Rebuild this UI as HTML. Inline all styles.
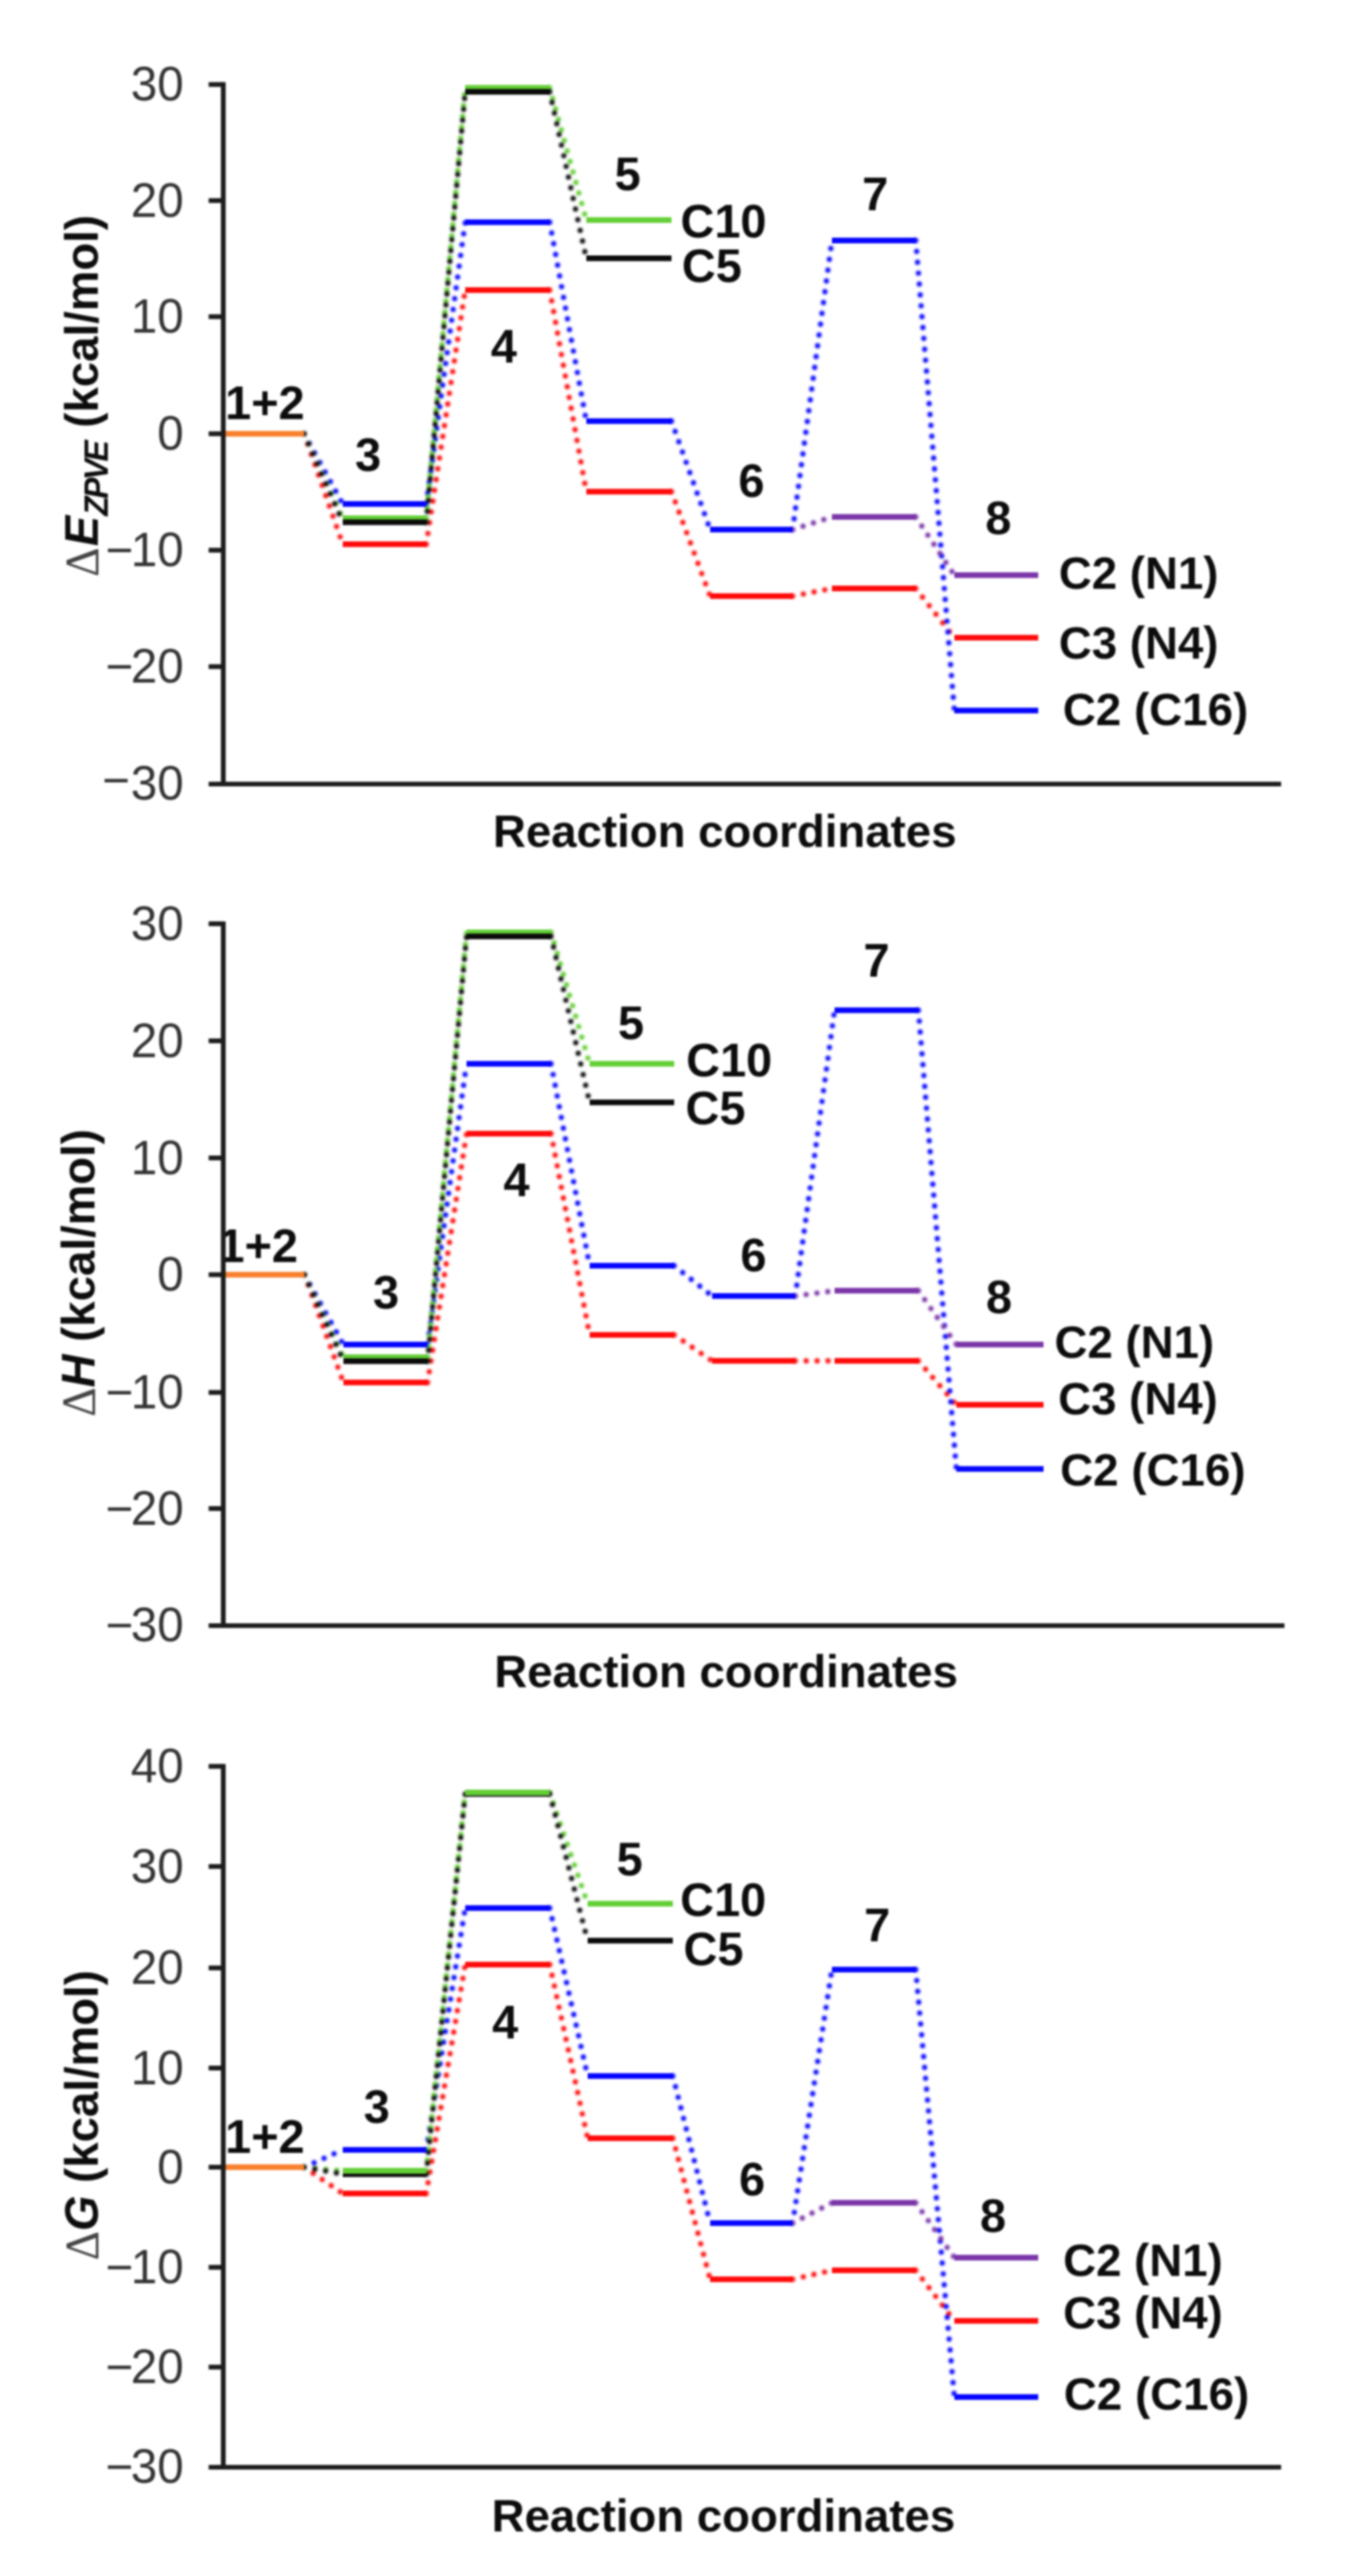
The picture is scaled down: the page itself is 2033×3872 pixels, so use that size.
<!DOCTYPE html>
<html lang="en"><head><meta charset="utf-8"><title>Energy profiles</title>
<style>
html,body{margin:0;padding:0;background:#fff}
svg{display:block;filter:blur(1.5px)}
text{font-family:"Liberation Sans",Arial,sans-serif;font-size:70.5px}
.t{fill:#333333;font-size:71.5px}
.x{font-size:68.5px}
.b{fill:#0c0c0c;font-weight:bold}
.bi{font-style:italic}
.dl{font-family:"Liberation Serif","DejaVu Serif",serif;font-weight:normal;fill:#444}
.sub{font-size:48px;letter-spacing:-3.9px}
.dg{filter:blur(1.5px)}
.d{stroke-width:7.8;stroke-dasharray:0 16.4;stroke-linecap:round;fill:none}
</style></head>
<body>
<svg width="2033" height="3872" viewBox="0 0 2033 3872">
<rect width="2033" height="3872" fill="#ffffff"/>
<g id="chart1">
<g class="dg">
<line x1="457.0" y1="652.0" x2="515.0" y2="818.0" stroke="#ff0a0a" class="d"/>
<line x1="640.5" y1="818.0" x2="699.0" y2="436.0" stroke="#ff0a0a" class="d"/>
<line x1="826.0" y1="436.0" x2="881.0" y2="739.0" stroke="#ff0a0a" class="d"/>
<line x1="1009.0" y1="739.0" x2="1067.0" y2="896.0" stroke="#ff0a0a" class="d"/>
<line x1="1191.0" y1="896.0" x2="1250.0" y2="884.5" stroke="#ff0a0a" class="d"/>
<line x1="1376.0" y1="884.5" x2="1434.0" y2="958.5" stroke="#ff0a0a" class="d"/>
<line x1="457.0" y1="652.0" x2="515.0" y2="757.5" stroke="#0505ff" class="d"/>
<line x1="640.5" y1="757.5" x2="699.0" y2="334.0" stroke="#0505ff" class="d"/>
<line x1="826.0" y1="334.0" x2="881.0" y2="633.0" stroke="#0505ff" class="d"/>
<line x1="1009.0" y1="633.0" x2="1067.0" y2="796.0" stroke="#0505ff" class="d"/>
<line x1="1191.0" y1="796.0" x2="1250.0" y2="361.5" stroke="#0505ff" class="d"/>
<line x1="1376.0" y1="361.5" x2="1434.0" y2="1068.0" stroke="#0505ff" class="d"/>
<line x1="457.0" y1="652.0" x2="515.0" y2="779.0" stroke="#63cf35" class="d"/>
<line x1="640.5" y1="779.0" x2="699.0" y2="132.0" stroke="#63cf35" class="d"/>
<line x1="826.0" y1="132.0" x2="881.0" y2="330.8" stroke="#63cf35" class="d"/>
<line x1="457.0" y1="652.0" x2="515.0" y2="785.0" stroke="#0a0a0a" class="d"/>
<line x1="640.5" y1="785.0" x2="699.0" y2="138.0" stroke="#0a0a0a" class="d"/>
<line x1="826.0" y1="138.0" x2="881.0" y2="388.2" stroke="#0a0a0a" class="d"/>
<line x1="1191.0" y1="796.0" x2="1250.0" y2="777.0" stroke="#7a35a8" class="d"/>
<line x1="1376.0" y1="777.0" x2="1434.0" y2="864.5" stroke="#7a35a8" class="d"/>
</g>
<line x1="336.0" y1="652.0" x2="457.0" y2="652.0" stroke="#f9802d" stroke-width="8.5" />
<line x1="515.0" y1="818.0" x2="640.5" y2="818.0" stroke="#ff0a0a" stroke-width="8.5" />
<line x1="699.0" y1="436.0" x2="826.0" y2="436.0" stroke="#ff0a0a" stroke-width="8.5" />
<line x1="881.0" y1="739.0" x2="1009.0" y2="739.0" stroke="#ff0a0a" stroke-width="8.5" />
<line x1="1067.0" y1="896.0" x2="1191.0" y2="896.0" stroke="#ff0a0a" stroke-width="8.5" />
<line x1="1250.0" y1="884.5" x2="1376.0" y2="884.5" stroke="#ff0a0a" stroke-width="8.5" />
<line x1="1434.0" y1="958.5" x2="1560.0" y2="958.5" stroke="#ff0a0a" stroke-width="8.5" />
<line x1="515.0" y1="757.5" x2="640.5" y2="757.5" stroke="#0505ff" stroke-width="8.5" />
<line x1="699.0" y1="334.0" x2="826.0" y2="334.0" stroke="#0505ff" stroke-width="8.5" />
<line x1="881.0" y1="633.0" x2="1009.0" y2="633.0" stroke="#0505ff" stroke-width="8.5" />
<line x1="1067.0" y1="796.0" x2="1191.0" y2="796.0" stroke="#0505ff" stroke-width="8.5" />
<line x1="1250.0" y1="361.5" x2="1376.0" y2="361.5" stroke="#0505ff" stroke-width="8.5" />
<line x1="1434.0" y1="1068.0" x2="1560.0" y2="1068.0" stroke="#0505ff" stroke-width="8.5" />
<line x1="515.0" y1="779.0" x2="640.5" y2="779.0" stroke="#63cf35" stroke-width="8.5" />
<line x1="699.0" y1="132.0" x2="826.0" y2="132.0" stroke="#63cf35" stroke-width="8.5" />
<line x1="881.0" y1="330.8" x2="1009.0" y2="330.8" stroke="#63cf35" stroke-width="8.5" />
<line x1="515.0" y1="785.0" x2="640.5" y2="785.0" stroke="#0a0a0a" stroke-width="8.5" />
<line x1="699.0" y1="138.0" x2="826.0" y2="138.0" stroke="#0a0a0a" stroke-width="8.5" />
<line x1="881.0" y1="388.2" x2="1009.0" y2="388.2" stroke="#0a0a0a" stroke-width="8.5" />
<line x1="1250.0" y1="777.0" x2="1376.0" y2="777.0" stroke="#7a35a8" stroke-width="8.5" />
<line x1="1434.0" y1="864.5" x2="1560.0" y2="864.5" stroke="#7a35a8" stroke-width="8.5" />
<text x="398" y="630" text-anchor="middle" class="b">1+2</text>
<text x="553" y="708" text-anchor="middle" class="b">3</text>
<text x="757" y="545" text-anchor="middle" class="b">4</text>
<text x="943" y="285.5" text-anchor="middle" class="b">5</text>
<text x="1129" y="747" text-anchor="middle" class="b">6</text>
<text x="1315" y="316" text-anchor="middle" class="b">7</text>
<text x="1500" y="803" text-anchor="middle" class="b">8</text>
<text x="1022.5" y="356.5" class="b">C10</text>
<text x="1024.5" y="423.5" class="b">C5</text>
<text x="1591" y="885" class="b" style="font-size:68.5px">C2 (N1)</text>
<text x="1591" y="990" class="b" style="font-size:68.5px">C3 (N4)</text>
<text x="1597" y="1090" class="b" style="font-size:68.7px">C2 (C16)</text>
<line x1="335.5" y1="123.4" x2="335.5" y2="1182.1" stroke="#1c1c1c" stroke-width="7.2" />
<line x1="313.5" y1="1178.5" x2="1925.0" y2="1178.5" stroke="#1c1c1c" stroke-width="7.2" />
<line x1="313.5" y1="127.0" x2="335.5" y2="127.0" stroke="#1c1c1c" stroke-width="7.2" />
<line x1="313.5" y1="301.5" x2="335.5" y2="301.5" stroke="#1c1c1c" stroke-width="7.2" />
<line x1="313.5" y1="476.0" x2="335.5" y2="476.0" stroke="#1c1c1c" stroke-width="7.2" />
<line x1="313.5" y1="652.0" x2="335.5" y2="652.0" stroke="#1c1c1c" stroke-width="7.2" />
<line x1="313.5" y1="827.0" x2="335.5" y2="827.0" stroke="#1c1c1c" stroke-width="7.2" />
<line x1="313.5" y1="1002.0" x2="335.5" y2="1002.0" stroke="#1c1c1c" stroke-width="7.2" />
<text x="276" y="151.0" text-anchor="end" class="t">30</text>
<text x="276" y="325.5" text-anchor="end" class="t">20</text>
<text x="276" y="500.0" text-anchor="end" class="t">10</text>
<text x="276" y="676.0" text-anchor="end" class="t">0</text>
<text x="276" y="851.0" text-anchor="end" class="t" dx="0 -4">−10</text>
<text x="276" y="1026.0" text-anchor="end" class="t" dx="0 -4">−20</text>
<text x="276" y="1202.0" text-anchor="end" class="t" dx="0 1" dy="-5 5">−30</text>
<text x="1089" y="1273" text-anchor="middle" class="b x">Reaction coordinates</text>
<text transform="translate(147,867) scale(1.04,1) rotate(-90)" class="b x"><tspan class="dl">Δ</tspan><tspan class="bi" dx="2">E</tspan><tspan class="sub bi" dy="14">ZPVE</tspan><tspan dy="-14" dx="3.6"> (kcal/mol)</tspan></text>
</g>
<g id="chart2">
<g class="dg">
<line x1="457.5" y1="1916.0" x2="516.0" y2="2078.0" stroke="#ff0a0a" class="d"/>
<line x1="642.5" y1="2078.0" x2="701.0" y2="1704.0" stroke="#ff0a0a" class="d"/>
<line x1="828.0" y1="1704.0" x2="886.0" y2="2006.5" stroke="#ff0a0a" class="d"/>
<line x1="1013.0" y1="2006.5" x2="1070.0" y2="2045.5" stroke="#ff0a0a" class="d"/>
<line x1="1195.0" y1="2045.5" x2="1254.0" y2="2045.5" stroke="#ff0a0a" class="d"/>
<line x1="1380.0" y1="2045.5" x2="1437.0" y2="2111.5" stroke="#ff0a0a" class="d"/>
<line x1="457.5" y1="1916.0" x2="516.0" y2="2021.0" stroke="#0505ff" class="d"/>
<line x1="642.5" y1="2021.0" x2="701.0" y2="1599.0" stroke="#0505ff" class="d"/>
<line x1="828.0" y1="1599.0" x2="886.0" y2="1902.5" stroke="#0505ff" class="d"/>
<line x1="1013.0" y1="1902.5" x2="1070.0" y2="1948.0" stroke="#0505ff" class="d"/>
<line x1="1195.0" y1="1948.0" x2="1254.0" y2="1518.5" stroke="#0505ff" class="d"/>
<line x1="1380.0" y1="1518.5" x2="1437.0" y2="2208.0" stroke="#0505ff" class="d"/>
<line x1="457.5" y1="1916.0" x2="516.0" y2="2040.0" stroke="#63cf35" class="d"/>
<line x1="642.5" y1="2040.0" x2="701.0" y2="1401.5" stroke="#63cf35" class="d"/>
<line x1="828.0" y1="1401.5" x2="886.0" y2="1599.0" stroke="#63cf35" class="d"/>
<line x1="457.5" y1="1916.0" x2="516.0" y2="2046.0" stroke="#0a0a0a" class="d"/>
<line x1="642.5" y1="2046.0" x2="701.0" y2="1407.5" stroke="#0a0a0a" class="d"/>
<line x1="828.0" y1="1407.5" x2="886.0" y2="1657.0" stroke="#0a0a0a" class="d"/>
<line x1="1195.0" y1="1948.0" x2="1254.0" y2="1940.0" stroke="#7a35a8" class="d"/>
<line x1="1380.0" y1="1940.0" x2="1437.0" y2="2021.0" stroke="#7a35a8" class="d"/>
</g>
<line x1="336.0" y1="1916.0" x2="457.5" y2="1916.0" stroke="#f9802d" stroke-width="8.5" />
<line x1="516.0" y1="2078.0" x2="642.5" y2="2078.0" stroke="#ff0a0a" stroke-width="8.5" />
<line x1="701.0" y1="1704.0" x2="828.0" y2="1704.0" stroke="#ff0a0a" stroke-width="8.5" />
<line x1="886.0" y1="2006.5" x2="1013.0" y2="2006.5" stroke="#ff0a0a" stroke-width="8.5" />
<line x1="1070.0" y1="2045.5" x2="1195.0" y2="2045.5" stroke="#ff0a0a" stroke-width="8.5" />
<line x1="1254.0" y1="2045.5" x2="1380.0" y2="2045.5" stroke="#ff0a0a" stroke-width="8.5" />
<line x1="1437.0" y1="2111.5" x2="1568.0" y2="2111.5" stroke="#ff0a0a" stroke-width="8.5" />
<line x1="516.0" y1="2021.0" x2="642.5" y2="2021.0" stroke="#0505ff" stroke-width="8.5" />
<line x1="701.0" y1="1599.0" x2="828.0" y2="1599.0" stroke="#0505ff" stroke-width="8.5" />
<line x1="886.0" y1="1902.5" x2="1013.0" y2="1902.5" stroke="#0505ff" stroke-width="8.5" />
<line x1="1070.0" y1="1948.0" x2="1195.0" y2="1948.0" stroke="#0505ff" stroke-width="8.5" />
<line x1="1254.0" y1="1518.5" x2="1380.0" y2="1518.5" stroke="#0505ff" stroke-width="8.5" />
<line x1="1437.0" y1="2208.0" x2="1568.0" y2="2208.0" stroke="#0505ff" stroke-width="8.5" />
<line x1="516.0" y1="2040.0" x2="642.5" y2="2040.0" stroke="#63cf35" stroke-width="8.5" />
<line x1="701.0" y1="1401.5" x2="828.0" y2="1401.5" stroke="#63cf35" stroke-width="8.5" />
<line x1="886.0" y1="1599.0" x2="1013.0" y2="1599.0" stroke="#63cf35" stroke-width="8.5" />
<line x1="516.0" y1="2046.0" x2="642.5" y2="2046.0" stroke="#0a0a0a" stroke-width="8.5" />
<line x1="701.0" y1="1407.5" x2="828.0" y2="1407.5" stroke="#0a0a0a" stroke-width="8.5" />
<line x1="886.0" y1="1657.0" x2="1013.0" y2="1657.0" stroke="#0a0a0a" stroke-width="8.5" />
<line x1="1254.0" y1="1940.0" x2="1380.0" y2="1940.0" stroke="#7a35a8" stroke-width="8.5" />
<line x1="1437.0" y1="2021.0" x2="1568.0" y2="2021.0" stroke="#7a35a8" stroke-width="8.5" />
<text x="388" y="1897" text-anchor="middle" class="b">1+2</text>
<text x="580" y="1967" text-anchor="middle" class="b">3</text>
<text x="776" y="1798" text-anchor="middle" class="b">4</text>
<text x="948" y="1562" text-anchor="middle" class="b">5</text>
<text x="1132" y="1911" text-anchor="middle" class="b">6</text>
<text x="1317" y="1468" text-anchor="middle" class="b">7</text>
<text x="1501" y="1974" text-anchor="middle" class="b">8</text>
<text x="1031" y="1617.5" class="b">C10</text>
<text x="1030" y="1690" class="b">C5</text>
<text x="1584.5" y="2041" class="b" style="font-size:68.5px">C2 (N1)</text>
<text x="1590" y="2126" class="b" style="font-size:68.5px">C3 (N4)</text>
<text x="1593" y="2233" class="b" style="font-size:68.7px">C2 (C16)</text>
<line x1="335.5" y1="1384.9" x2="335.5" y2="2447.1" stroke="#1c1c1c" stroke-width="7.2" />
<line x1="313.5" y1="2443.5" x2="1930.0" y2="2443.5" stroke="#1c1c1c" stroke-width="7.2" />
<line x1="313.5" y1="1388.5" x2="335.5" y2="1388.5" stroke="#1c1c1c" stroke-width="7.2" />
<line x1="313.5" y1="1564.5" x2="335.5" y2="1564.5" stroke="#1c1c1c" stroke-width="7.2" />
<line x1="313.5" y1="1740.5" x2="335.5" y2="1740.5" stroke="#1c1c1c" stroke-width="7.2" />
<line x1="313.5" y1="1916.0" x2="335.5" y2="1916.0" stroke="#1c1c1c" stroke-width="7.2" />
<line x1="313.5" y1="2093.0" x2="335.5" y2="2093.0" stroke="#1c1c1c" stroke-width="7.2" />
<line x1="313.5" y1="2267.5" x2="335.5" y2="2267.5" stroke="#1c1c1c" stroke-width="7.2" />
<text x="276" y="1412.5" text-anchor="end" class="t">30</text>
<text x="276" y="1588.5" text-anchor="end" class="t">20</text>
<text x="276" y="1764.5" text-anchor="end" class="t">10</text>
<text x="276" y="1940.0" text-anchor="end" class="t">0</text>
<text x="276" y="2117.0" text-anchor="end" class="t" dx="0 -4">−10</text>
<text x="276" y="2291.5" text-anchor="end" class="t" dx="0 -4">−20</text>
<text x="276" y="2467.0" text-anchor="end" class="t" dx="0 -4">−30</text>
<text x="1091" y="2536" text-anchor="middle" class="b x">Reaction coordinates</text>
<text transform="translate(142,2129.5) scale(1.04,1) rotate(-90)" class="b x"><tspan class="dl">Δ</tspan><tspan class="bi">H</tspan> (kcal/mol)</text>
</g>
<g id="chart3">
<g class="dg">
<line x1="457.0" y1="3257.5" x2="515.0" y2="3297.0" stroke="#ff0a0a" class="d"/>
<line x1="640.5" y1="3297.0" x2="699.0" y2="2953.0" stroke="#ff0a0a" class="d"/>
<line x1="826.0" y1="2953.0" x2="883.0" y2="3214.0" stroke="#ff0a0a" class="d"/>
<line x1="1011.0" y1="3214.0" x2="1067.0" y2="3426.0" stroke="#ff0a0a" class="d"/>
<line x1="1191.0" y1="3426.0" x2="1250.0" y2="3412.5" stroke="#ff0a0a" class="d"/>
<line x1="1376.0" y1="3412.5" x2="1434.0" y2="3488.5" stroke="#ff0a0a" class="d"/>
<line x1="457.0" y1="3257.5" x2="515.0" y2="3231.5" stroke="#0505ff" class="d"/>
<line x1="640.5" y1="3231.5" x2="699.0" y2="2868.0" stroke="#0505ff" class="d"/>
<line x1="826.0" y1="2868.0" x2="883.0" y2="3120.5" stroke="#0505ff" class="d"/>
<line x1="1011.0" y1="3120.5" x2="1067.0" y2="3341.5" stroke="#0505ff" class="d"/>
<line x1="1191.0" y1="3341.5" x2="1250.0" y2="2960.5" stroke="#0505ff" class="d"/>
<line x1="1376.0" y1="2960.5" x2="1434.0" y2="3603.0" stroke="#0505ff" class="d"/>
<line x1="457.0" y1="3257.5" x2="515.0" y2="3263.0" stroke="#63cf35" class="d"/>
<line x1="640.5" y1="3263.0" x2="699.0" y2="2694.5" stroke="#63cf35" class="d"/>
<line x1="826.0" y1="2694.5" x2="883.0" y2="2861.5" stroke="#63cf35" class="d"/>
<line x1="457.0" y1="3257.5" x2="515.0" y2="3268.0" stroke="#0a0a0a" class="d"/>
<line x1="640.5" y1="3268.0" x2="699.0" y2="2696.5" stroke="#0a0a0a" class="d"/>
<line x1="826.0" y1="2696.5" x2="883.0" y2="2917.0" stroke="#0a0a0a" class="d"/>
<line x1="1191.0" y1="3341.5" x2="1250.0" y2="3311.0" stroke="#7a35a8" class="d"/>
<line x1="1376.0" y1="3311.0" x2="1434.0" y2="3393.5" stroke="#7a35a8" class="d"/>
</g>
<line x1="336.0" y1="3257.5" x2="457.0" y2="3257.5" stroke="#f9802d" stroke-width="8.5" />
<line x1="515.0" y1="3297.0" x2="640.5" y2="3297.0" stroke="#ff0a0a" stroke-width="8.5" />
<line x1="699.0" y1="2953.0" x2="826.0" y2="2953.0" stroke="#ff0a0a" stroke-width="8.5" />
<line x1="883.0" y1="3214.0" x2="1011.0" y2="3214.0" stroke="#ff0a0a" stroke-width="8.5" />
<line x1="1067.0" y1="3426.0" x2="1191.0" y2="3426.0" stroke="#ff0a0a" stroke-width="8.5" />
<line x1="1250.0" y1="3412.5" x2="1376.0" y2="3412.5" stroke="#ff0a0a" stroke-width="8.5" />
<line x1="1434.0" y1="3488.5" x2="1560.0" y2="3488.5" stroke="#ff0a0a" stroke-width="8.5" />
<line x1="515.0" y1="3231.5" x2="640.5" y2="3231.5" stroke="#0505ff" stroke-width="8.5" />
<line x1="699.0" y1="2868.0" x2="826.0" y2="2868.0" stroke="#0505ff" stroke-width="8.5" />
<line x1="883.0" y1="3120.5" x2="1011.0" y2="3120.5" stroke="#0505ff" stroke-width="8.5" />
<line x1="1067.0" y1="3341.5" x2="1191.0" y2="3341.5" stroke="#0505ff" stroke-width="8.5" />
<line x1="1250.0" y1="2960.5" x2="1376.0" y2="2960.5" stroke="#0505ff" stroke-width="8.5" />
<line x1="1434.0" y1="3603.0" x2="1560.0" y2="3603.0" stroke="#0505ff" stroke-width="8.5" />
<line x1="515.0" y1="3263.0" x2="640.5" y2="3263.0" stroke="#63cf35" stroke-width="8.5" />
<line x1="699.0" y1="2694.5" x2="826.0" y2="2694.5" stroke="#63cf35" stroke-width="8.5" />
<line x1="883.0" y1="2861.5" x2="1011.0" y2="2861.5" stroke="#63cf35" stroke-width="8.5" />
<line x1="515.0" y1="3268.0" x2="640.5" y2="3268.0" stroke="#0a0a0a" stroke-width="8.5" />
<line x1="699.0" y1="2696.5" x2="826.0" y2="2696.5" stroke="#0a0a0a" stroke-width="8.5" />
<line x1="883.0" y1="2917.0" x2="1011.0" y2="2917.0" stroke="#0a0a0a" stroke-width="8.5" />
<line x1="1250.0" y1="3311.0" x2="1376.0" y2="3311.0" stroke="#7a35a8" stroke-width="8.5" />
<line x1="1434.0" y1="3393.5" x2="1560.0" y2="3393.5" stroke="#7a35a8" stroke-width="8.5" />
<line x1="699.0" y1="2694.5" x2="826.0" y2="2694.5" stroke="#63cf35" stroke-width="8.5" />
<line x1="515.0" y1="3263.0" x2="640.5" y2="3263.0" stroke="#63cf35" stroke-width="8.5" />
<text x="398" y="3236" text-anchor="middle" class="b">1+2</text>
<text x="566" y="3191" text-anchor="middle" class="b">3</text>
<text x="759" y="3064" text-anchor="middle" class="b">4</text>
<text x="946" y="2819" text-anchor="middle" class="b">5</text>
<text x="1130" y="3300" text-anchor="middle" class="b">6</text>
<text x="1318" y="2918" text-anchor="middle" class="b">7</text>
<text x="1492" y="3355" text-anchor="middle" class="b">8</text>
<text x="1022" y="2880" class="b">C10</text>
<text x="1027" y="2954" class="b">C5</text>
<text x="1597.5" y="3420.5" class="b" style="font-size:68.5px">C2 (N1)</text>
<text x="1597.5" y="3500" class="b" style="font-size:68.5px">C3 (N4)</text>
<text x="1598.5" y="3621.5" class="b" style="font-size:68.7px">C2 (C16)</text>
<line x1="335.5" y1="2651.4" x2="335.5" y2="3712.1" stroke="#1c1c1c" stroke-width="7.2" />
<line x1="313.5" y1="3708.5" x2="1925.0" y2="3708.5" stroke="#1c1c1c" stroke-width="7.2" />
<line x1="313.5" y1="2655.0" x2="335.5" y2="2655.0" stroke="#1c1c1c" stroke-width="7.2" />
<line x1="313.5" y1="2805.5" x2="335.5" y2="2805.5" stroke="#1c1c1c" stroke-width="7.2" />
<line x1="313.5" y1="2958.0" x2="335.5" y2="2958.0" stroke="#1c1c1c" stroke-width="7.2" />
<line x1="313.5" y1="3108.5" x2="335.5" y2="3108.5" stroke="#1c1c1c" stroke-width="7.2" />
<line x1="313.5" y1="3257.5" x2="335.5" y2="3257.5" stroke="#1c1c1c" stroke-width="7.2" />
<line x1="313.5" y1="3408.0" x2="335.5" y2="3408.0" stroke="#1c1c1c" stroke-width="7.2" />
<line x1="313.5" y1="3558.0" x2="335.5" y2="3558.0" stroke="#1c1c1c" stroke-width="7.2" />
<text x="276" y="2679.0" text-anchor="end" class="t">40</text>
<text x="276" y="2829.5" text-anchor="end" class="t">30</text>
<text x="276" y="2982.0" text-anchor="end" class="t">20</text>
<text x="276" y="3132.5" text-anchor="end" class="t">10</text>
<text x="276" y="3281.5" text-anchor="end" class="t">0</text>
<text x="276" y="3432.0" text-anchor="end" class="t" dx="0 -4">−10</text>
<text x="276" y="3582.0" text-anchor="end" class="t" dx="0 -4">−20</text>
<text x="276" y="3732.0" text-anchor="end" class="t" dx="0 -4">−30</text>
<text x="1087" y="3805" text-anchor="middle" class="b x">Reaction coordinates</text>
<text transform="translate(147,3397.5) scale(1.04,1) rotate(-90)" class="b x"><tspan class="dl">Δ</tspan><tspan class="bi">G</tspan> (kcal/mol)</text>
</g>
</svg>
</body></html>
